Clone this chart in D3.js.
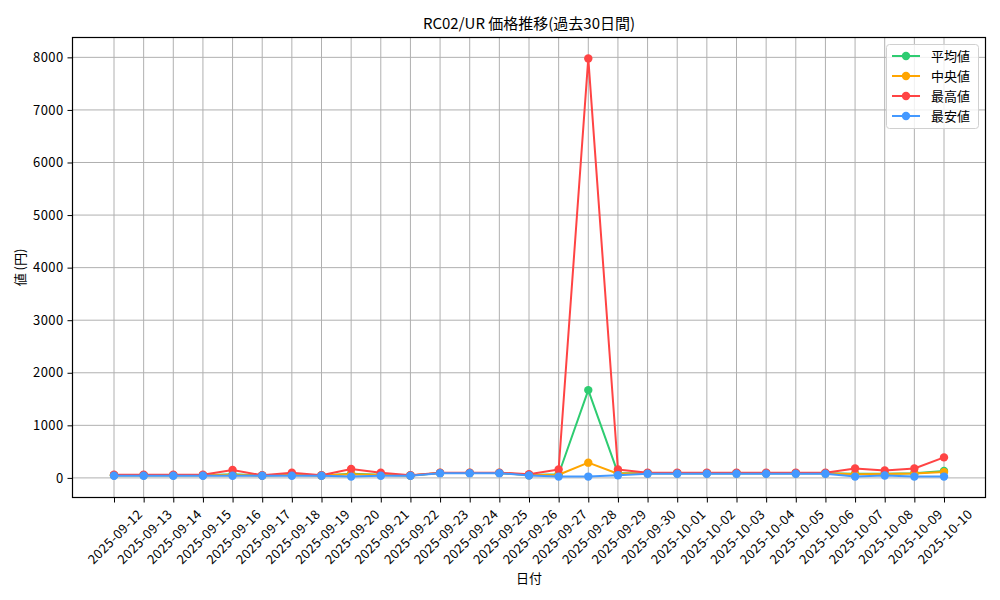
<!DOCTYPE html>
<html><head><meta charset="utf-8">
<script src="https://cdn.jsdelivr.net/npm/d3@7"></script>
<style>
body{margin:0;background:#fff;}
text{font-family:"Noto Sans CJK JP","DejaVu Sans",sans-serif;}
</style></head>
<body><svg id="c" width="1000" height="600"></svg>
<script>
const dates = ["2025-09-12","2025-09-13","2025-09-14","2025-09-15","2025-09-16","2025-09-17","2025-09-18","2025-09-19","2025-09-20","2025-09-21","2025-09-22","2025-09-23","2025-09-24","2025-09-25","2025-09-26","2025-09-27","2025-09-28","2025-09-29","2025-09-30","2025-10-01","2025-10-02","2025-10-03","2025-10-04","2025-10-05","2025-10-06","2025-10-07","2025-10-08","2025-10-09","2025-10-10"];
const avgValues = [50,50,50,50,70,45,60,45,80,60,45,95,95,95,55,70,1670,90,90,90,90,90,90,90,90,80,80,90,130];
const medianValues = [50,50,50,50,55,45,55,45,70,55,45,95,95,95,50,60,290,80,90,90,90,90,90,90,90,70,75,85,110];
const maxValues = [60,60,60,60,150,50,100,50,170,100,50,100,100,100,70,160,7980,160,100,100,100,100,100,100,100,180,140,180,390];
const minValues = [40,40,40,40,40,40,40,40,25,40,40,90,90,90,45,25,25,50,80,80,80,80,80,80,80,25,45,25,25];
const yTicks = [0,1000,2000,3000,4000,5000,6000,7000,8000];
const seriesNames = ["平均値","中央値","最高値","最安値"];
const seriesColors = ["#2ecc71","#ffa500","#ff4444","#4499ff"];
const seriesData = [avgValues, medianValues, maxValues, minValues];
const titleText = "RC02/UR 価格推移(過去30日間)";
const xLabel = "日付";
const yLabel = "値 (円)";

const svg = d3.select("#c");
const L=72.5, R=985.5, T=37.5, B=497.5;
const n = dates.length;
const x = d3.scaleLinear().domain([-0.05*(n-1), (n-1)*1.05]).range([L,R]);
const allV = seriesData.flat();
const ymin = d3.min(allV), ymax = d3.max(allV), pad=(ymax-ymin)*0.05;
const y = d3.scaleLinear().domain([ymin-pad, ymax+pad]).range([B,T]);

// grid
const g = svg.append("g");
g.selectAll(".gx").data(dates).enter().append("line")
  .attr("x1",(d,i)=>x(i)).attr("x2",(d,i)=>x(i)).attr("y1",T).attr("y2",B)
  .attr("stroke","#b0b0b0").attr("stroke-width",1);
g.selectAll(".gy").data(yTicks).enter().append("line")
  .attr("x1",L).attr("x2",R).attr("y1",d=>y(d)).attr("y2",d=>y(d))
  .attr("stroke","#b0b0b0").attr("stroke-width",1);

// axes
const xAxis = d3.axisBottom(x).tickValues(d3.range(n)).tickFormat(i=>dates[i]).tickSize(5).tickSizeOuter(0);
const xa = svg.append("g").attr("transform",`translate(0,${B})`).call(xAxis);
xa.select(".domain").remove();
xa.selectAll("line").attr("stroke","#000");
xa.selectAll("text").attr("font-size",13).attr("fill","#000").attr("letter-spacing","0.4px")
  .attr("text-anchor","middle").attr("dy",null).attr("y",0).attr("dominant-baseline","central")
  .each(function(){
    const len = this.getComputedTextLength();
    const h = 13;
    const half = (len + h) / Math.SQRT2 / 2;
    d3.select(this).attr("transform",`translate(0,${9 + half}) rotate(-45)`);
  });
const yAxis = d3.axisLeft(y).tickValues(yTicks).tickFormat(d3.format("d")).tickSize(5).tickSizeOuter(0);
const ya = svg.append("g").attr("transform",`translate(${L},0)`).call(yAxis);
ya.select(".domain").remove();
ya.selectAll("line").attr("stroke","#000");
ya.selectAll("text").attr("font-size",13).attr("fill","#000").attr("x",-9).attr("letter-spacing","0.4px");

// lines
const line = d3.line().x((d,i)=>x(i)).y(d=>y(d));
seriesData.forEach((vals,k)=>{
  svg.append("path").datum(vals).attr("d",line).attr("fill","none")
    .attr("stroke",seriesColors[k]).attr("stroke-width",2).attr("stroke-linejoin","round");
  svg.append("g").selectAll("circle").data(vals).enter().append("circle")
    .attr("cx",(d,i)=>x(i)).attr("cy",d=>y(d)).attr("r",4.2).attr("fill",seriesColors[k]);
});

// frame
svg.append("rect").attr("x",L).attr("y",T).attr("width",R-L).attr("height",B-T)
  .attr("fill","none").attr("stroke","#000").attr("stroke-width",1.2);

// title & labels
svg.append("text").attr("x",(L+R)/2).attr("y",29).attr("text-anchor","middle").attr("font-size",15).text(titleText);
svg.append("text").attr("x",(L+R)/2).attr("y",583).attr("text-anchor","middle").attr("font-size",13).text(xLabel);
svg.append("text").attr("transform",`translate(25,${(T+B)/2}) rotate(-90)`).attr("text-anchor","middle").attr("font-size",13).text(yLabel);

// legend
const lg = svg.append("g");
lg.append("rect").attr("x",886.5).attr("y",44.5).attr("width",92).attr("height",84).attr("rx",3)
  .attr("fill","#fff").attr("fill-opacity",0.8).attr("stroke","#d0d0d0");
seriesNames.forEach((name,k)=>{
  const yy = 56 + k*20;
  lg.append("line").attr("x1",892).attr("x2",920).attr("y1",yy).attr("y2",yy).attr("stroke",seriesColors[k]).attr("stroke-width",2);
  lg.append("circle").attr("cx",906).attr("cy",yy).attr("r",4.2).attr("fill",seriesColors[k]);
  lg.append("text").attr("x",931).attr("y",yy+4.5).attr("font-size",13).text(name);
});
</script></body></html>
